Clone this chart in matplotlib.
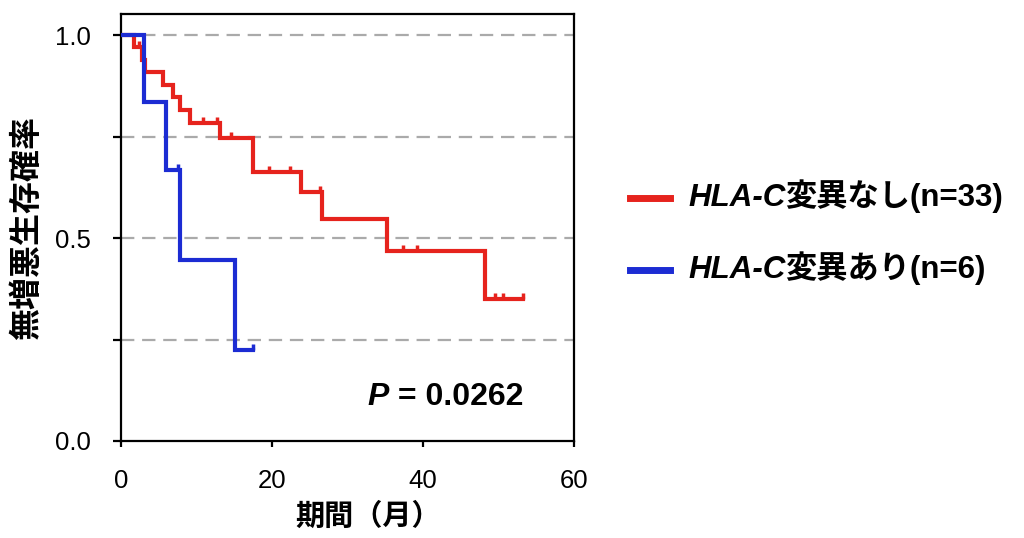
import matplotlib
matplotlib.use("Agg")
import matplotlib.pyplot as plt
from matplotlib.lines import Line2D
import numpy as np

plt.rcParams['font.family'] = ['Liberation Sans', 'Noto Sans CJK JP']

# ---- data ----
red_times = [0, 1.7, 2.8, 3.2, 5.6, 6.85, 7.8, 9.1, 13.1, 17.5, 23.9, 26.6, 35.2, 48.2]
red_surv = [1.0, 0.971, 0.938, 0.909, 0.877, 0.848, 0.815, 0.783, 0.746, 0.663, 0.614, 0.546, 0.468, 0.350]
red_end = 53.2
red_cens_t = [2.4, 10.8, 12.7, 14.6, 19.6, 22.4, 26.3, 37.3, 39.2, 49.6, 50.6, 53.2]
red_cens_s = [0.971, 0.783, 0.783, 0.746, 0.663, 0.663, 0.614, 0.468, 0.468, 0.350, 0.350, 0.350]

blue_times = [0, 3.05, 5.95, 7.75, 15.1]
blue_surv = [1.0, 0.835, 0.667, 0.446, 0.224]
blue_end = 17.5
blue_cens_t = [7.5, 17.5]
blue_cens_s = [0.667, 0.224]

x_ticks = [0, 20, 40, 60]
y_ticks = [0, 0.25, 0.5, 0.75, 1.0]
y_ticklabels = ['0.0', '', '0.5', '', '1.0']
grid_levels = [0.25, 0.5, 0.75, 1.0]

label_red = ('HLA-C', '変異なし(n=33)')
label_blue = ('HLA-C', '変異あり(n=6)')
p_text = ('P', ' = 0.0262')
xlabel = '期間（月）'
ylabel = '無増悪生存確率'

RED = '#e6231d'
BLUE = '#1c2cd3'

W, H = 1024, 538
fig = plt.figure(figsize=(W / 100, H / 100), dpi=100)
ax = fig.add_axes([121 / W, 97 / H, 453 / W, 427 / H])
ax.set_xlim(0, 60)
ax.set_ylim(0, 1.052)

for g in grid_levels:
    ax.axhline(g, color='#aaaaaa', lw=1.6, dashes=(6, 3.5), zorder=1)

def km(times, surv, end, cens_t, cens_s, color):
    t = list(times) + [end]
    s = list(surv) + [surv[-1]]
    ax.step(t, s, where='post', color=color, lw=3, zorder=3,
            solid_joinstyle='miter')
    ax.plot(cens_t, cens_s, ls='none', marker=2, markersize=4.5,
            markeredgewidth=2.5, color=color, zorder=3)

km(red_times, red_surv, red_end, red_cens_t, red_cens_s, RED)
km(blue_times, blue_surv, blue_end, blue_cens_t, blue_cens_s, BLUE)

for sp in ax.spines.values():
    sp.set_linewidth(1.6)
    sp.set_color('black')

ax.set_xticks(x_ticks)
ax.set_yticks(y_ticks)
ax.set_yticklabels(y_ticklabels)
ax.tick_params(axis='both', direction='out', labelsize=18.5, width=1.6,
               color='black', pad=16)
ax.tick_params(axis='y', length=6)
ax.tick_params(axis='x', length=4)

ax.set_xlabel(xlabel, fontsize=21, fontweight='bold')
ax.xaxis.set_label_coords(0.545, -0.145)
ax.set_ylabel(ylabel, fontsize=23, fontweight='bold')
ax.yaxis.set_label_coords(-0.172, 0.5)

# P value
t1 = ax.text(32.7, 0.089, p_text[0], fontsize=23, fontweight='bold',
             fontstyle='italic', va='baseline', ha='left')
ax.annotate(p_text[1], xy=(1, 0), xycoords=t1, fontsize=23,
            fontweight='bold', va='bottom', ha='left')

# legend
def legend_entry(ypix, color, parts):
    fy = 1 - ypix / H
    fig.add_artist(Line2D([630 / W, 670 / W], [fy, fy], color=color, lw=5,
                          transform=fig.transFigure))
    a = fig.text(688 / W, fy, parts[0], fontsize=22.5, fontweight='bold',
                 fontstyle='italic', va='center', ha='left')
    ax.annotate(parts[1], xy=(1, 0), xycoords=a, fontsize=22.5,
                fontweight='bold', va='bottom', ha='left',
                annotation_clip=False)

legend_entry(198, RED, label_red)
legend_entry(270, BLUE, label_blue)

fig.savefig('out.png', dpi=100)
